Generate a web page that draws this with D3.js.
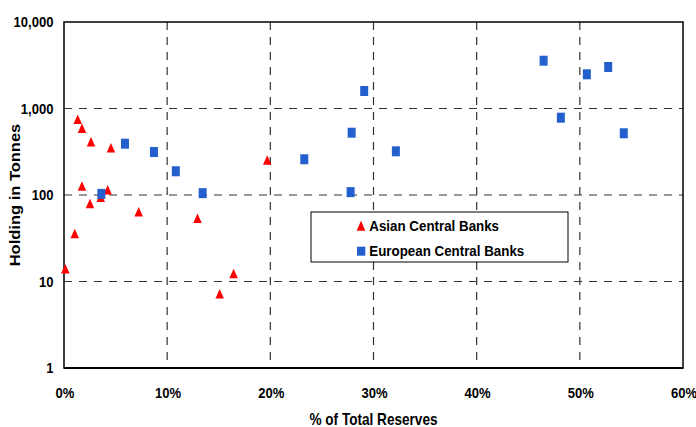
<!DOCTYPE html>
<html><head><meta charset="utf-8">
<script src="https://cdn.jsdelivr.net/npm/d3@7"></script>
<style>html,body{margin:0;padding:0;background:#fff;}svg{display:block;}</style>
</head><body>
<svg id="c" width="696" height="427"></svg>
<script>
// Data (x = % of total reserves, y = holding in tonnes)
const asianX = [1.33, 1.74, 2.62, 4.55, 1.74, 4.23, 3.56, 2.52, 7.24, 12.94, 1.04, 0.13, 19.7, 16.44, 15.09];
const asianY = [750, 590, 413, 352, 127, 115, 94, 80, 64, 54, 36, 14, 254, 12.4, 7.2];
const europeX = [5.91, 8.72, 10.84, 13.44, 3.62, 29.1, 27.88, 23.29, 32.17, 27.78, 46.49, 50.68, 52.75, 48.16, 54.26];
const europeY = [392, 314, 188, 105, 103, 1593, 525, 259, 320, 108, 3570, 2485, 3020, 783, 517];
const xTicks = [0, 10, 20, 30, 40, 50, 60];
const yTicks = [1, 10, 100, 1000, 10000];
const seriesNames = ["Asian Central Banks", "European Central Banks"];
const xTitle = "% of Total Reserves";
const yTitle = "Holding in Tonnes";

const L = 64, R = 683, T = 22, B = 368;
const FONT = "'Liberation Sans', Arial, sans-serif";
const SX = 0.87;
const RED = "#ff0000", BLUE = "#2360cd";

const svg = d3.select("#c");
const x = d3.scaleLinear().domain([0, 60]).range([L, R]);
const y = d3.scaleLog().domain([1, 10000]).range([B, T]);

function stext(xp, yp, txt, anchor, size, sx) {
  return svg.append("text")
    .attr("transform", `translate(${xp},${yp}) scale(${sx},1)`)
    .attr("text-anchor", anchor)
    .attr("font-family", FONT).attr("font-weight", "bold")
    .attr("font-size", size).attr("fill", "#000")
    .text(txt);
}

// gridlines
const grid = svg.append("g").attr("stroke", "#333").attr("stroke-width", 1.2).attr("stroke-dasharray", "8,7");
grid.selectAll("line.v").data(xTicks.filter(d => d > 0 && d < 60)).join("line")
  .attr("x1", d => x(d)).attr("x2", d => x(d)).attr("y1", T).attr("y2", B);
grid.selectAll("line.h").data(yTicks.filter(d => d > 1 && d < 10000)).join("line")
  .attr("x1", L).attr("x2", R).attr("y1", d => y(d)).attr("y2", d => y(d));

// frame
svg.append("rect").attr("x", L).attr("y", T).attr("width", R - L).attr("height", B - T)
  .attr("fill", "none").attr("stroke", "#000").attr("stroke-width", 1.5);
svg.append("line").attr("x1", L).attr("x2", R).attr("y1", B).attr("y2", B)
  .attr("stroke", "#000").attr("stroke-width", 2);

// tick labels
const fmt = d3.format(",");
yTicks.forEach(d => stext(53.5, y(d) + 5.4, fmt(d), "end", 15, SX));
xTicks.forEach(d => stext(x(d) + 1, 398, d + "%", "middle", 15, SX));

// axis titles
stext((L + R) / 2, 424.5, xTitle, "middle", 16, 0.85);
svg.append("text")
  .attr("transform", `translate(20,${(T + B) / 2}) scale(0.87,1) rotate(-90)`)
  .attr("text-anchor", "middle").attr("font-family", FONT).attr("font-weight", "bold")
  .attr("font-size", 16.5).text(yTitle);

// markers
function tri(w, h) { return `M0,${-h / 2}L${w / 2},${h / 2}L${-w / 2},${h / 2}Z`; }
const asian = asianX.map((v, i) => ({ x: v, y: asianY[i] }));
const europe = europeX.map((v, i) => ({ x: v, y: europeY[i] }));
svg.append("g").selectAll("path").data(asian).join("path")
  .attr("d", tri(8.5, 9.5)).attr("fill", RED)
  .attr("transform", d => `translate(${x(d.x)},${y(d.y)})`);
svg.append("g").selectAll("rect").data(europe).join("rect")
  .attr("x", d => x(d.x) - 4).attr("y", d => y(d.y) - 5)
  .attr("width", 8).attr("height", 10).attr("fill", BLUE);

// legend
const lg = svg.append("g");
lg.append("rect").attr("x", 311).attr("y", 212).attr("width", 257).attr("height", 50)
  .attr("fill", "#fff").attr("stroke", "#000").attr("stroke-width", 1);
lg.append("path").attr("d", tri(8.7, 10)).attr("fill", RED).attr("transform", "translate(361,225.7)");
lg.append("rect").attr("x", 357).attr("y", 246.7).attr("width", 8.3).attr("height", 9).attr("fill", BLUE);
stext(369.3, 230.7, seriesNames[0], "start", 15, 0.89);
stext(369.3, 255.7, seriesNames[1], "start", 15, 0.89);
</script>
</body></html>
